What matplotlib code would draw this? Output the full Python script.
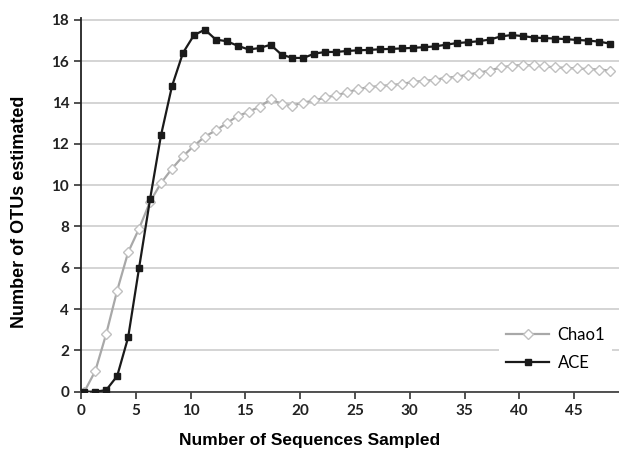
import numpy as np
import matplotlib
matplotlib.use('agg')
import matplotlib.pyplot as plt

# values, one per sample (49 samples)
ace = [0.0, 0.0, 0.08, 0.76, 2.63, 6.0, 9.32, 12.42, 14.79, 16.4,
       17.26, 17.53, 17.05, 16.97, 16.75, 16.57, 16.64, 16.8, 16.32, 16.16,
       16.16, 16.37, 16.45, 16.45, 16.5, 16.53, 16.55, 16.58, 16.6, 16.62,
       16.65, 16.68, 16.72, 16.8, 16.88, 16.92, 16.97, 17.05, 17.2, 17.27,
       17.22, 17.15, 17.12, 17.1, 17.07, 17.03, 17.0, 16.95, 16.85]
chao1 = [0.0, 1.0, 2.8, 4.9, 6.75, 7.9, 9.2, 10.1, 10.8, 11.4,
         11.9, 12.35, 12.65, 13.0, 13.35, 13.55, 13.8, 14.15, 13.95, 13.85,
         14.0, 14.1, 14.25, 14.35, 14.5, 14.65, 14.75, 14.8, 14.85, 14.9,
         15.0, 15.05, 15.1, 15.2, 15.25, 15.35, 15.45, 15.55, 15.7, 15.78,
         15.82, 15.8, 15.75, 15.7, 15.68, 15.65, 15.62, 15.6, 15.55]
# category centres sit a bit right of the tick values
samples = np.arange(len(ace)) + 0.3

xticks = [0, 5, 10, 15, 20, 25, 30, 35, 40, 45]
yticks = [0, 2, 4, 6, 8, 10, 12, 14, 16, 18]

fig = plt.figure(figsize=(6.19, 4.55), dpi=100, facecolor='w')
ax = fig.add_axes([0.1309, 0.1391, 0.8691, 0.8216])

ax.plot(samples, chao1, color='#a8a8a8', lw=1.6, marker='D', markersize=4.6,
        markerfacecolor='white', markeredgecolor='#c0c0c0', markeredgewidth=1.0,
        label='Chao1', zorder=3)
ax.plot(samples, ace, color='#1a1a1a', lw=1.6, marker='s', markersize=4.8,
        markerfacecolor='#1a1a1a', markeredgecolor='#1a1a1a',
        label='ACE', zorder=4)

ax.set_xlim(0, 49.1)
ax.set_ylim(0, 18.1)
ax.set_xticks(xticks)
ax.set_yticks(yticks)
ax.yaxis.grid(True, color='#d4d4d4', lw=1.4)
ax.set_axisbelow(True)

for s in ['top', 'right']:
    ax.spines[s].set_visible(False)
ax.spines['left'].set_color('#222222')
ax.spines['bottom'].set_color('#444444')
ax.spines['left'].set_linewidth(1.3)
ax.spines['bottom'].set_linewidth(1.3)
ax.tick_params(direction='out', length=5, width=1.2, color='#333333')

for lab in ax.get_xticklabels() + ax.get_yticklabels():
    lab.set_family('Lato')
    lab.set_weight('bold')
    lab.set_fontsize(11)
    lab.set_color('#222222')

# axis titles placed on the figure, as in the reference
fig.text(310 / 619, 1 - 440 / 455, 'Number of Sequences Sampled',
         family='Liberation Sans', weight='bold', fontsize=12.5,
         ha='center', va='center')
fig.text(20 / 619, 1 - 212 / 455, 'Number of OTUs estimated',
         family='Liberation Sans', weight='bold', fontsize=13,
         ha='center', va='center', rotation=90)

leg = ax.legend(loc='lower right', bbox_to_anchor=(0.987, 0.037),
                borderaxespad=0, frameon=True, facecolor='white',
                edgecolor='none', framealpha=1, fancybox=False,
                handlelength=2.6, handletextpad=0.5, labelspacing=0.75,
                prop={'family': 'Lato', 'size': 12})
leg.set_zorder(5)

plt.savefig('out.png', dpi=100)
plt.close('all')
